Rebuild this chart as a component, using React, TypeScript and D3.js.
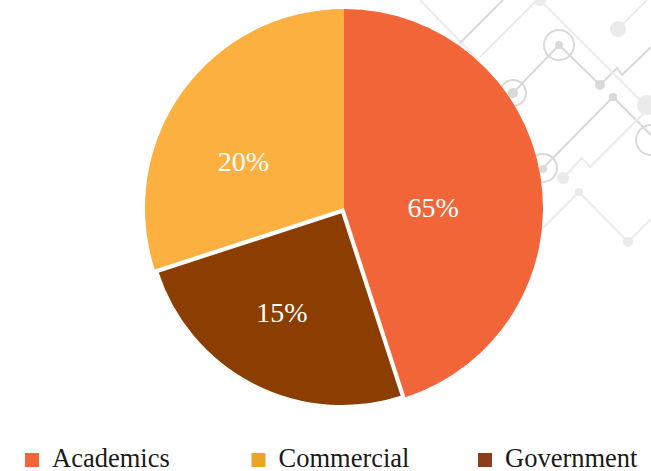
import React, { useEffect } from "react";
import * as d3 from "d3";

// ---- data ----
const categories = ["Academics", "Commercial", "Government"];
// angular share of each slice as drawn in the picture
const sliceShares = [45, 30, 25];
// the text printed on each slice
const sliceLabels = ["65%", "20%", "15%"];
// clockwise drawing order of the slices, starting at 12 o'clock
const sliceOrder = ["Academics", "Government", "Commercial"];
const pieColors = ["#F26539", "#FBB040", "#8C3D00"];
const legendColors = ["#F26539", "#EBA524", "#8B3E1F"];

// ---- layout / style ----
const W = 651;
const H = 471;
const CX = 344;
const CY = 208;
const R = 199;
const EXPLODED = "Government";
const EXPLODE_PX = 4.5;
const EXPLODED_R = 194;
const labelNudge: Record<string, [number, number]> = {
  Academics: [-9, 15],
  Commercial: [-20, 12],
  Government: [-15, 12],
};

// background circuit decoration (purely ornamental)
const decoDark = "#d9d9d9";
const decoLight = "#ebebeb";
const decoLines: { pts: [number, number][]; c: string }[] = [
  { pts: [[420, 0], [480, 62]], c: decoLight },
  { pts: [[460, 43], [503, 0]], c: decoDark },
  { pts: [[480, 57], [537, 0]], c: decoLight },
  { pts: [[490, 116], [513, 93], [559, 45], [600, 85], [617, 68], [622, 75], [651, 47]], c: decoDark },
  { pts: [[540, 0], [651, 111]], c: decoLight },
  { pts: [[618, 29], [651, -4]], c: decoLight },
  { pts: [[525, 186], [543, 168], [613, 97], [651, 135]], c: decoDark },
  { pts: [[563, 178], [582, 158], [590, 167], [647, 110]], c: decoLight },
  { pts: [[543, 228], [579, 192], [628, 242], [651, 219]], c: decoLight },
];
const decoDots: { x: number; y: number; r: number; c: string }[] = [
  { x: 540, y: 0, r: 6, c: decoLight },
  { x: 559, y: 45, r: 4, c: decoDark },
  { x: 513, y: 93, r: 5, c: decoDark },
  { x: 600, y: 85, r: 5, c: decoDark },
  { x: 618, y: 29, r: 8, c: decoLight },
  { x: 613, y: 97, r: 4, c: decoDark },
  { x: 647, y: 105, r: 10, c: decoLight },
  { x: 543, y: 169, r: 4, c: decoDark },
  { x: 563, y: 178, r: 6, c: decoLight },
  { x: 579, y: 192, r: 4, c: decoLight },
  { x: 628, y: 242, r: 5, c: decoLight },
];
const decoRings: { x: number; y: number; r: number }[] = [
  { x: 559, y: 45, r: 15 },
  { x: 513, y: 93, r: 13 },
  { x: 543, y: 168, r: 14 },
  { x: 651, y: 140, r: 15 },
];

export default function App() {
  useEffect(() => {
    document.body.style.margin = "0";
  }, []);

  const items = sliceOrder.map((name) => {
    const i = categories.indexOf(name);
    return { name, value: sliceShares[i], label: sliceLabels[i], color: pieColors[i] };
  });

  const pie = d3
    .pie<(typeof items)[number]>()
    .sort(null)
    .value((d) => d.value)
    .startAngle(0)
    .endAngle(2 * Math.PI);
  const arcs = pie(items);
  const arcGen = d3.arc<d3.PieArcDatum<(typeof items)[number]>>().innerRadius(0).outerRadius(R);
  const arcGenExploded = d3
    .arc<d3.PieArcDatum<(typeof items)[number]>>()
    .innerRadius(0)
    .outerRadius(EXPLODED_R);

  const lineGen = d3.line();
  const legendX = d3.scaleLinear().domain([0, 1]).range([25, 251.5]);

  return (
    <svg width={W} height={H} style={{ display: "block", background: "#fff" }}>
      <g>
        {decoLines.map((l, i) => (
          <path key={i} d={lineGen(l.pts) || ""} fill="none" stroke={l.c} strokeWidth={2} />
        ))}
        {decoRings.map((c, i) => (
          <circle key={i} cx={c.x} cy={c.y} r={c.r} fill="none" stroke={decoDark} strokeWidth={2} />
        ))}
        {decoDots.map((c, i) => (
          <circle key={i} cx={c.x} cy={c.y} r={c.r} fill={c.c} />
        ))}
      </g>
      <g transform={`translate(${CX},${CY})`}>
        {arcs.map((a) => {
          const mid = (a.startAngle + a.endAngle) / 2;
          const isEx = a.data.name === EXPLODED;
          const off = isEx ? EXPLODE_PX : 0;
          const dx = Math.sin(mid) * off;
          const dy = -Math.cos(mid) * off;
          return (
            <path
              key={a.data.name}
              d={(isEx ? arcGenExploded(a) : arcGen(a)) || ""}
              fill={a.data.color}
              stroke={isEx ? "#ffffff" : "none"}
              strokeWidth={isEx ? 2 : 0}
              strokeLinejoin="miter"
              transform={`translate(${dx},${dy})`}
            />
          );
        })}
        {arcs.map((a) => {
          const mid = (a.startAngle + a.endAngle) / 2;
          const off = a.data.name === EXPLODED ? EXPLODE_PX : 0;
          const [cx, cy] = arcGen.centroid(a);
          const [nx, ny] = labelNudge[a.data.name];
          return (
            <text
              key={a.data.name}
              x={cx + Math.sin(mid) * off + nx}
              y={cy - Math.cos(mid) * off + ny}
              dy="0.35em"
              textAnchor="middle"
              fill="#ffffff"
              fontFamily="'Liberation Serif', 'DejaVu Serif', serif"
              fontSize={28}
            >
              {a.data.label}
            </text>
          );
        })}
      </g>
      <g fontFamily="'Liberation Serif', 'DejaVu Serif', serif" fontSize={26.5} fill="#1a1a1a">
        {categories.map((c, i) => (
          <g key={c} transform={`translate(${legendX(i)},0)`}>
            <rect x={0} y={453} width={14} height={14} fill={legendColors[i]} />
            <text x={27} y={467}>
              {c}
            </text>
          </g>
        ))}
      </g>
    </svg>
  );
}
